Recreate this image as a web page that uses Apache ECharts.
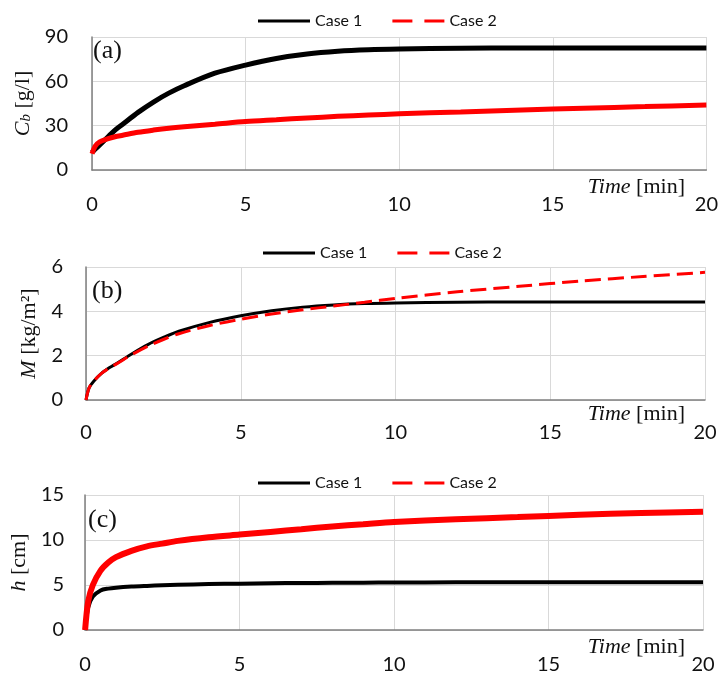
<!DOCTYPE html>
<html>
<head>
<meta charset="utf-8">
<script src="https://cdn.jsdelivr.net/npm/echarts@6/dist/echarts.min.js"></script>
<style>
  html, body { margin: 0; padding: 0; background: #fff; }
  #chart { width: 721px; height: 675px; }
</style>
</head>
<body>
<div id="chart"></div>
<script>
// time points [min]
var time = [0, 0.1, 0.25, 0.5, 0.75, 1, 1.5, 2, 2.5, 3, 4, 5, 6, 7, 8, 9, 10, 12, 14, 16, 18, 20];

// (a) Cb [g/l]
var cbCase1 = [12, 14, 17, 22, 27, 31, 39, 46, 52, 57, 65.5, 71, 75.5, 78.5, 80.3, 81.3, 81.8, 82.4, 82.6, 82.6, 82.6, 82.6];
var cbCase2 = [11, 16, 19, 21, 22.5, 23.5, 25.5, 27, 28.3, 29.3, 31, 32.8, 34, 35.2, 36.3, 37.2, 38, 39.3, 40.6, 41.8, 42.9, 44];

// (b) M [kg/m2]
var mCase1 = [0, 0.55, 0.85, 1.2, 1.45, 1.66, 2.1, 2.5, 2.82, 3.1, 3.5, 3.8, 4.03, 4.19, 4.29, 4.35, 4.38, 4.41, 4.42, 4.42, 4.42, 4.42];
var mCase2 = [0, 0.55, 0.85, 1.2, 1.44, 1.64, 2.06, 2.43, 2.73, 2.99, 3.36, 3.64, 3.88, 4.07, 4.24, 4.41, 4.58, 4.88, 5.13, 5.37, 5.57, 5.76];

// (c) h [cm]
var hCase1 = [0, 2.5, 3.7, 4.4, 4.6, 4.7, 4.82, 4.9, 4.97, 5.02, 5.1, 5.15, 5.2, 5.22, 5.24, 5.26, 5.27, 5.3, 5.3, 5.3, 5.3, 5.3];
var hCase2 = [0, 3.2, 5, 6.6, 7.5, 8.1, 8.8, 9.3, 9.6, 9.9, 10.3, 10.6, 10.9, 11.2, 11.5, 11.75, 12, 12.3, 12.55, 12.8, 13, 13.15];

var xTicks = [0, 5, 10, 15, 20];
var caseNames = ['Case 1', 'Case 2'];

function pairs(values) {
  return time.map(function (t, i) { return [t, values[i]]; });
}

const chart = echarts.init(document.getElementById('chart'));

var axisColor = '#7f7f7f';
var gridColor = '#d9d9d9';
var serif = '"Liberation Serif", "DejaVu Serif", serif';

var grids = [
  { left: 92, right: 13, top: 37, height: 133 },
  { left: 86, right: 16, top: 267, height: 133 },
  { left: 81, right: 18, top: 495, height: 135 }
];

function xAxisFor(i) {
  return {
    type: 'value', gridIndex: i, min: xTicks[0], max: xTicks[xTicks.length - 1], interval: 5,
    axisLine: { show: true, lineStyle: { color: axisColor, width: 1.5 } },
    axisTick: { show: false },
    axisLabel: { color: '#111', fontSize: 20, margin: i === 1 ? 23 : 25 },
    splitLine: { show: true, lineStyle: { color: gridColor, width: 1 } }
  };
}

function yAxisFor(i, max, interval, name, gap, labelMargin) {
  return {
    type: 'value', gridIndex: i, min: 0, max: max, interval: interval,
    name: name, nameLocation: 'middle', nameRotate: 90, nameGap: gap,
    nameTextStyle: {
      fontFamily: serif, fontSize: 22, color: '#111',
      rich: {
        i: { fontFamily: serif, fontStyle: 'italic', fontSize: 22, color: '#111' },
        s: { fontFamily: serif, fontStyle: 'italic', fontSize: 15, color: '#111', verticalAlign: 'bottom' }
      }
    },
    axisLine: { show: true, lineStyle: { color: axisColor, width: 1.5 } },
    axisTick: { show: false },
    axisLabel: { color: '#111', fontSize: 20, margin: labelMargin },
    splitLine: { show: true, lineStyle: { color: gridColor, width: 1 } }
  };
}

// legend icons: solid bar and two dashes
var solidIcon = 'path://M0,0H52V3H0Z';
var dashIcon = 'path://M0,0H20V3H0Z M32,0H52V3H32Z';

function legendFor(left, top) {
  return {
    left: left, top: top, itemWidth: 52, itemHeight: 3, itemGap: 30,
    textStyle: { fontSize: 16, color: '#111' },
    data: [
      { name: caseNames[0], icon: solidIcon, itemStyle: { color: '#000' } },
      { name: caseNames[1], icon: dashIcon, itemStyle: { color: '#ff0000' } }
    ]
  };
}

function lineSeries(name, idx, values, color, width, type) {
  return {
    name: name, type: 'line', xAxisIndex: idx, yAxisIndex: idx,
    data: pairs(values), symbol: 'none', smooth: 0.3, silent: true,
    lineStyle: { color: color, width: width, type: type || 'solid' },
    itemStyle: { color: color }
  };
}

function timeLabel(y) {
  return {
    type: 'text', right: 36, top: y,
    style: {
      text: '{i|Time} [min]', font: '22px ' + serif, fill: '#111',
      rich: { i: { fontStyle: 'italic', fontFamily: serif, fontSize: 22, fill: '#111' } }
    }
  };
}

function panelLabel(text, x, y) {
  return {
    type: 'text', left: x, top: y,
    style: { text: text, font: '26px ' + serif, fill: '#111' }
  };
}

option = {
  animation: false,
  backgroundColor: '#fff',
  textStyle: { fontFamily: 'Lato, "Open Sans", sans-serif' },
  legend: [legendFor(253, 8), legendFor(258, 240), legendFor(253, 470)],
  grid: grids,
  xAxis: [xAxisFor(0), xAxisFor(1), xAxisFor(2)],
  yAxis: [
    yAxisFor(0, 90, 30, '{i|C}{s|b} [g/l]', 50, 24),
    yAxisFor(1, 6, 2, '{i|M} [kg/m²]', 38, 23),
    yAxisFor(2, 15, 5, '{i|h} [cm]', 43, 21)
  ],
  graphic: [
    panelLabel('(a)', 93, 38),
    panelLabel('(b)', 92, 278),
    panelLabel('(c)', 88, 507),
    timeLabel(176),
    timeLabel(403),
    timeLabel(636)
  ],
  series: [
    lineSeries(caseNames[0], 0, cbCase1, '#000', 5),
    lineSeries(caseNames[1], 0, cbCase2, '#ff0000', 5),
    lineSeries(caseNames[0], 1, mCase1, '#000', 3),
    lineSeries(caseNames[1], 1, mCase2, '#ff0000', 3, [16, 7]),
    lineSeries(caseNames[0], 2, hCase1, '#000', 4),
    lineSeries(caseNames[1], 2, hCase2, '#ff0000', 6)
  ]
};

chart.setOption(option);
</script>
</body>
</html>
